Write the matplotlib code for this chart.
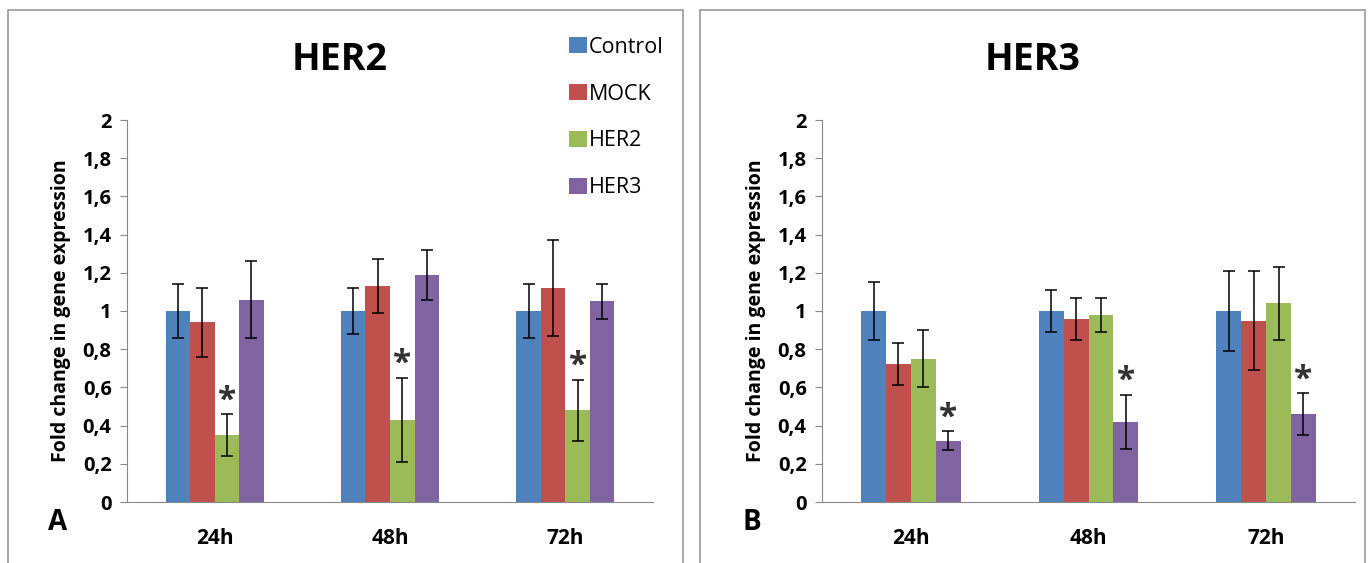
import numpy as np
import matplotlib as mpl
mpl.use('agg')
import matplotlib.pyplot as plt
from matplotlib.patches import Rectangle

plt.rcParams['font.family'] = ['Open Sans', 'DejaVu Sans']

# categories and series
times = ['24h', '48h', '72h']
groups = ['Control', 'MOCK', 'HER2', 'HER3']
colors = ['#4F81BD', '#C0504D', '#9BBB59', '#8064A2']
yticks = [0, 0.2, 0.4, 0.6, 0.8, 1.0, 1.2, 1.4, 1.6, 1.8, 2.0]
ytick_labels = ['0', '0,2', '0,4', '0,6', '0,8', '1', '1,2', '1,4', '1,6', '1,8', '2']

# panel A: HER2 expression (rows = group, cols = time)
her2_vals = [[1.00, 1.00, 1.00],
             [0.94, 1.13, 1.12],
             [0.35, 0.43, 0.48],
             [1.06, 1.19, 1.05]]
her2_errs = [[0.14, 0.12, 0.14],
             [0.18, 0.14, 0.25],
             [0.11, 0.22, 0.16],
             [0.20, 0.13, 0.09]]
her2_star = 2  # significant group

# panel B: HER3 expression
her3_vals = [[1.00, 1.00, 1.00],
             [0.72, 0.96, 0.95],
             [0.75, 0.98, 1.04],
             [0.32, 0.42, 0.46]]
her3_errs = [[0.15, 0.11, 0.21],
             [0.11, 0.11, 0.26],
             [0.15, 0.09, 0.19],
             [0.05, 0.14, 0.11]]
her3_star = 3


def draw_panel(ax, vals, errs, star):

    """ Draws grouped bars with error bars and significance stars. """

    x = np.arange(len(times))
    width = 0.14
    bars = []
    for i, g in enumerate(groups):
        pos = x + (i - 1.5) * width
        b = ax.bar(pos, vals[i], width, color = colors[i], label = g,
                   yerr = errs[i], capsize = 4.5,
                   error_kw = dict(elinewidth = 1.1, capthick = 1.1, ecolor = 'black'))
        bars.append(b)
        if i == star:
            for p, v, e in zip(pos, vals[i], errs[i]):
                ax.text(p, v + e + 0.07, '*', ha = 'center', va = 'center',
                        fontsize = 24, fontweight = 'bold', color = '#333333')

    ax.set_xlim(-0.5, 2.5)
    ax.set_ylim(0, 2)
    ax.set_xticks(x)
    ax.set_xticklabels(times, fontsize = 15, fontweight = 'bold')
    ax.set_yticks(yticks)
    ax.set_yticklabels(ytick_labels, fontsize = 14.5, fontweight = 'bold')
    ax.tick_params(axis = 'x', length = 0, pad = 19)
    ax.tick_params(axis = 'y', length = 5, color = '#888888', pad = 6)
    for s in ['top', 'right']:
        ax.spines[s].set_visible(False)
    for s in ['left', 'bottom']:
        ax.spines[s].set_color('#888888')
    ax.set_ylabel('Fold change in gene expression', fontsize = 14,
                  fontweight = 'bold', labelpad = 8)
    return bars


fig = plt.figure(figsize = (13.7, 5.63), dpi = 100)

# gray panel frames
fig.patches.append(Rectangle((8/1370, -0.01), 675/1370, 1 - 10/563 + 0.01,
                             transform = fig.transFigure, fill = False,
                             edgecolor = '#999999', lw = 1.2))
fig.patches.append(Rectangle((700/1370, -0.01), 665/1370, 1 - 10/563 + 0.01,
                             transform = fig.transFigure, fill = False,
                             edgecolor = '#999999', lw = 1.2))

axA = fig.add_axes([127/1370, 1 - 502/563, 526/1370, 382/563])
axB = fig.add_axes([822/1370, 1 - 502/563, 533/1370, 382/563])

bars = draw_panel(axA, her2_vals, her2_errs, her2_star)
draw_panel(axB, her3_vals, her3_errs, her3_star)

fig.text(340/1370, 1 - 60/563, 'HER2', ha = 'center', va = 'center',
         fontsize = 27, fontweight = 'bold')
fig.text(1033/1370, 1 - 60/563, 'HER3', ha = 'center', va = 'center',
         fontsize = 27, fontweight = 'bold')
fig.text(58/1370, 1 - 523/563, 'A', ha = 'center', va = 'center',
         fontsize = 20, fontweight = 'bold')
fig.text(752/1370, 1 - 523/563, 'B', ha = 'center', va = 'center',
         fontsize = 20, fontweight = 'bold')

fig.legend(handles = bars, labels = groups, loc = 'upper left',
           bbox_to_anchor = (558/1370, 1 - 26/563), frameon = False,
           fontsize = 15.5, handlelength = 0.85, handleheight = 0.75,
           handletextpad = 0.1, labelspacing = 1.2, borderpad = 0)

fig.savefig('out.png', dpi = 100)
